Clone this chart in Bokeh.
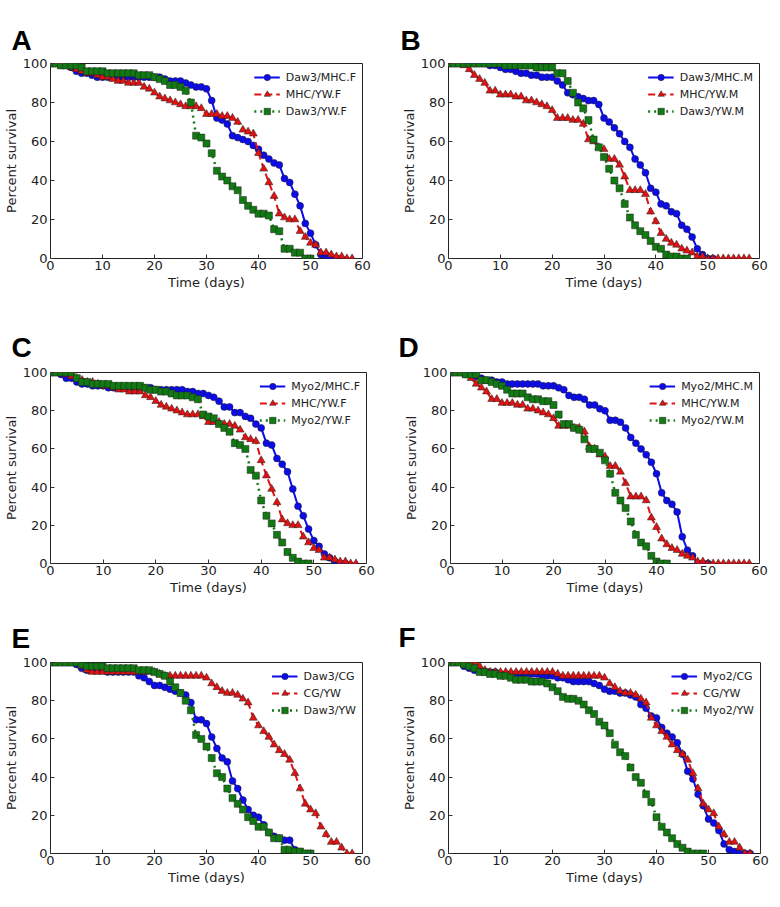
from bokeh.plotting import figure
from bokeh.layouts import column, row
from bokeh.models import Range1d, Legend, LegendItem, Title
from bokeh.embed import file_html
from bokeh.resources import INLINE

# ---------------- data (percent survival, one value per day starting at day 0) ----------------
daw3_mhc_f = [100,100,100,100,98,96,95,95,94,93,
              93,93,93,93,93,93,93,93,93,93,
              93,93,92,91,91,91,90,89,88,88,
              87,81,72,71,69,63,62,61,60,58,
              56,53,51,49,48,41,39,33,27,18,
              13,7,2,1,0,0]
mhc_yw_f = [100,100,100,99,98,97,96,95,95,94,
            93,93,92,91,91,90,90,90,88,87,
            85,83,82,81,80,79,78,78,78,77,
            74,74,74,73,73,72,70,66,65,64,
            54,46,39,32,23,21,20,20,14,11,
            8,7,3,3,2,1,1,0,0]
daw3_yw_f = [100,100,99,99,99,99,98,96,96,96,
             96,95,95,95,95,95,95,94,94,94,
             93,92,91,89,89,88,86,80,63,62,
             59,54,45,42,40,37,35,30,27,25,
             23,23,22,15,14,5,5,3,3,0,0]

daw3_mhc_m = [100,100,100,100,100,100,100,100,99,99,
              98,97,97,96,95,95,94,94,93,93,
              93,91,89,85,84,83,82,81,81,79,
              72,70,67,64,60,57,51,48,44,36,
              34,28,27,24,23,17,15,11,5,2,0,0]
mhc_yw_m = [100,100,100,99,97,94,92,90,86,86,
            84,84,84,83,83,81,81,80,79,78,
            76,72,72,72,71,71,69,61,60,57,
            56,51,51,48,42,35,35,35,33,24,
            19,13,10,8,7,5,4,3,1,1,
            0,0,0,0,0,0,0,0,0]
daw3_yw_m = [100,100,100,100,100,100,100,100,100,100,
             100,99,99,99,99,99,99,98,98,98,
             98,95,95,91,85,80,77,71,61,57,
             52,46,40,36,28,21,17,14,12,9,
             6,5,2,1,1,0,0]

myo2_mhc_f = [100,100,99,97,97,95,94,94,93,93,
              93,92,92,92,92,92,92,92,92,92,
              91,91,91,91,91,91,90,90,89,89,
              88,87,85,82,82,79,79,77,76,73,
              71,63,62,55,52,48,39,30,25,18,
              12,9,5,3,1,0,0]
myo2_yw_f = [100,100,100,100,100,97,95,95,94,94,
             94,94,93,93,93,93,93,93,92,91,
             91,90,90,89,88,88,88,87,86,78,
             77,76,73,71,69,63,62,60,49,46,
             33,25,21,15,11,6,3,1,0,0]

myo2_mhc_m = [100,100,100,99,99,98,97,96,96,95,
              95,94,94,94,94,94,94,94,93,93,
              93,92,91,88,87,87,86,83,83,81,
              80,75,75,74,71,66,63,60,57,53,
              47,37,33,31,27,14,7,4,0,0,0]
myo2_yw_m = [100,100,100,99,99,99,96,96,95,94,
             93,91,89,89,89,87,86,86,85,85,
             83,78,73,73,71,70,65,60,60,58,
             54,47,37,33,29,22,15,11,9,4,
             1,0,0]

daw3_cg = [100,100,100,100,100,99,97,96,96,96,
           96,95,95,95,95,95,95,93,92,90,
           88,88,87,86,85,84,83,79,70,70,
           68,61,55,50,48,38,34,28,23,20,
           19,15,11,9,8,7,7,2,1,0,0]
cg_yw = [100,100,100,100,100,100,98,96,95,95,
         95,95,95,95,95,95,95,95,95,95,
         95,94,93,93,93,93,93,93,93,93,
         92,89,87,85,84,84,83,81,79,71,
         67,64,61,57,54,52,49,42,34,26,
         23,21,14,10,6,6,3,0,0]
daw3_yw = [100,100,100,100,100,100,99,98,98,98,
           98,97,97,97,97,97,97,96,96,96,
           95,94,93,90,87,84,80,75,62,60,
           56,50,42,40,34,29,26,23,19,17,
           14,14,11,8,8,2,2,1,1,0,0]

myo2_cg = [100,100,100,98,97,96,96,95,95,95,
           94,94,94,94,94,94,94,94,93,93,
           93,92,92,91,90,90,90,90,89,88,
           86,85,85,84,84,83,82,78,76,72,
           71,66,63,61,58,52,43,39,31,25,
           18,16,12,5,2,1,0,0,0]
myo2_yw = [100,100,100,99,98,97,95,95,94,94,
           93,93,92,91,91,91,90,90,90,89,
           87,85,82,81,81,80,78,75,73,69,
           67,63,57,53,51,45,40,37,31,27,
           19,14,11,8,5,3,1,0,0,0]

x_ticks = [0, 10, 20, 30, 40, 50, 60]
y_ticks = [0, 20, 40, 60, 80, 100]

# ---------------- styling ----------------
STYLES = [
    dict(color="#0b0bee", dash="solid", marker="circle", lw=2.0),
    dict(color="#e01212", dash="7 4", marker="triangle", lw=2.0),
    dict(color="#127a12", dash="2 4", marker="square", lw=2.5),
]

panels = [
    dict(letter="A", series=[("Daw3/MHC.F", daw3_mhc_f), ("MHC/YW.F", mhc_yw_f), ("Daw3/YW.F", daw3_yw_f)],
         h=308, left=49, top=63, right=28, bottom=50, off=-39, stand=15),
    dict(letter="B", series=[("Daw3/MHC.M", daw3_mhc_m), ("MHC/YW.M", mhc_yw_m), ("Daw3/YW.M", daw3_yw_m)],
         h=308, left=58, top=63, right=21, bottom=50, off=-48, stand=15),
    dict(letter="C", series=[("Myo2/MHC.F", myo2_mhc_f), ("MHC/YW.F", mhc_yw_f), ("Myo2/YW.F", myo2_yw_f)],
         h=297, left=49, top=63, right=24, bottom=38, off=-39, stand=20),
    dict(letter="D", series=[("Myo2/MHC.M", myo2_mhc_m), ("MHC/YW.M", mhc_yw_m), ("Myo2/YW.M", myo2_yw_m)],
         h=297, left=60, top=64, right=21, bottom=42, off=-52, stand=19),
    dict(letter="E", series=[("Daw3/CG", daw3_cg), ("CG/YW", cg_yw), ("Daw3/YW", daw3_yw)],
         h=300, left=49, top=56, right=28, bottom=52, off=-39, stand=18),
    dict(letter="F", series=[("Myo2/CG", myo2_cg), ("CG/YW", cg_yw), ("Myo2/YW", myo2_yw)],
         h=300, left=58, top=57, right=20, bottom=50, off=-50, stand=19),
]

FONT = "DejaVu Sans"


def make_panel(cfg):
    p = figure(width=390, height=cfg["h"], x_range=Range1d(0, 60), y_range=Range1d(0, 100),
               output_backend="svg", toolbar_location=None,
               min_border_left=cfg["left"], min_border_right=cfg["right"],
               min_border_top=cfg["top"], min_border_bottom=cfg["bottom"])
    p.add_layout(Title(text=cfg["letter"], text_font="Liberation Sans", text_font_size="28px",
                       text_font_style="bold", text_color="black", align="left",
                       offset=cfg["off"], standoff=cfg["stand"]), "above")
    p.grid.visible = False
    p.outline_line_color = "#222222"
    p.outline_line_width = 1
    for ax in (p.xaxis[0], p.yaxis[0]):
        ax.axis_line_color = None
        ax.major_tick_in = 4
        ax.major_tick_out = 0
        ax.minor_tick_line_color = None
        ax.major_tick_line_color = "#333333"
        ax.major_label_text_font = FONT
        ax.major_label_text_font_size = "13px"
        ax.major_label_text_color = "#222222"
        ax.axis_label_text_font = FONT
        ax.axis_label_text_font_size = "13px"
        ax.axis_label_text_font_style = "normal"
        ax.axis_label_text_color = "#222222"
    p.xaxis.ticker = x_ticks
    p.yaxis.ticker = y_ticks
    p.xaxis.axis_label = "Time (days)"
    p.yaxis.axis_label = "Percent survival"
    p.xaxis.major_label_standoff = 2
    p.xaxis.axis_label_standoff = 2
    p.yaxis.major_label_standoff = 3
    p.yaxis.axis_label_standoff = 1

    items = []
    for (name, vals), st in zip(cfg["series"], STYLES):
        days = list(range(len(vals)))
        ln = p.line(days, vals, line_color=st["color"], line_width=st["lw"], line_dash=st["dash"])
        sc = p.scatter(days, vals, marker=st["marker"], size=7 if st["marker"] != "triangle" else 8,
                       fill_color=st["color"], line_color="#202020", line_width=0.5)
        items.append(LegendItem(label=name, renderers=[ln, sc]))
    leg = Legend(items=items, location="top_right", label_text_font=FONT,
                 label_text_font_size="11px", label_text_color="#222222",
                 glyph_width=26, glyph_height=16, label_height=16, spacing=1,
                 padding=4, margin=6, label_standoff=6,
                 border_line_color=None, background_fill_alpha=0)
    p.add_layout(leg)
    return p


figs = [make_panel(c) for c in panels]
layout = column(row(figs[0], figs[1]), row(figs[2], figs[3]), row(figs[4], figs[5]))

open("out.html", "w").write(file_html(layout, INLINE))
